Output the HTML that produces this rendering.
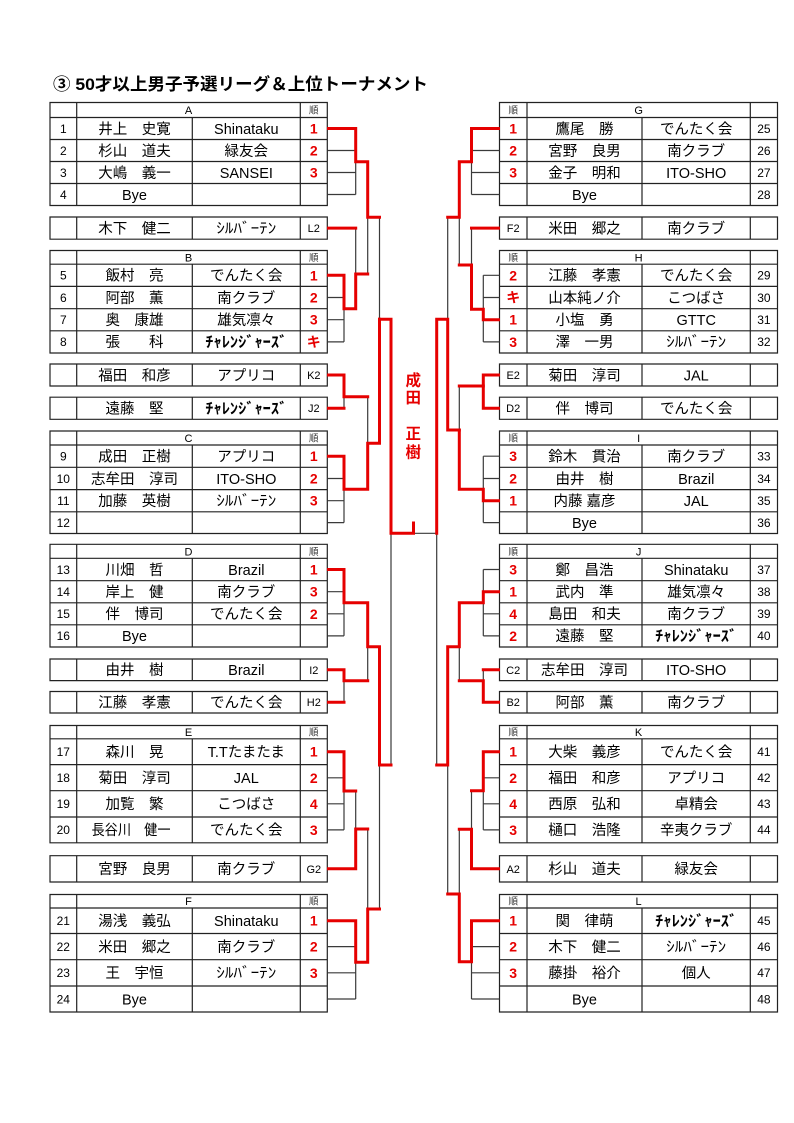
<!DOCTYPE html>
<html><head><meta charset="utf-8"><title>50才以上男子予選リーグ＆上位トーナメント</title>
<style>
html,body{margin:0;padding:0;background:#fff;}
body{width:794px;height:1123px;overflow:hidden;}
svg{display:block;}
text{font-family:"Liberation Sans","Noto Sans CJK JP",sans-serif;fill:#000;}
.n{font-size:12px;text-anchor:middle;}
.m{font-size:14.5px;text-anchor:middle;}
.r{font-size:14px;font-weight:bold;fill:#e60000;text-anchor:middle;}
.s{font-size:11px;text-anchor:middle;}
.h{font-size:11px;text-anchor:middle;}
.j{font-size:9.5px;text-anchor:middle;fill:#333;}
.ch{font-size:15px;font-weight:bold;text-anchor:middle;}
.hw{font-size:14.5px;text-anchor:middle;}
.ttl{font-size:17px;font-weight:bold;}
.win{font-size:15.5px;font-weight:bold;fill:#e60000;text-anchor:middle;}
.t{fill:none;stroke:#222;stroke-width:1.2;}
.k{fill:none;stroke:#3a3a3a;stroke-width:1.2;}
.red{fill:none;stroke:#e60000;stroke-width:3;stroke-linejoin:miter;stroke-linecap:square;}
</style></head>
<body>
<svg width="794" height="1123" viewBox="0 0 794 1123" xmlns="http://www.w3.org/2000/svg">
<text class="ttl" x="53" y="90" textLength="375" lengthAdjust="spacingAndGlyphs">③ 50才以上男子予選リーグ＆上位トーナメント</text>

<!-- LEFT TABLES -->
<path class="t" d="M50 102.5H327.3V205.5H50Z M50 117.5H327.3 M50 139.5H327.3 M50 161.5H327.3 M50 183.5H327.3 M76.7 102.5V205.5 M300.3 102.5V205.5 M192.3 117.5V205.5"/>
<path class="t" d="M50 217H327.3V239.2H50Z M76.7 217V239.2 M192.3 217V239.2 M300.3 217V239.2"/>
<path class="t" d="M50 250.5H327.3V353H50Z M50 264.2H327.3 M50 286.4H327.3 M50 308.7H327.3 M50 330.8H327.3 M76.7 250.5V353 M300.3 250.5V353 M192.3 264.2V353"/>
<path class="t" d="M50 364H327.3V386H50Z M76.7 364V386 M192.3 364V386 M300.3 364V386"/>
<path class="t" d="M50 397.2H327.3V419.3H50Z M76.7 397.2V419.3 M192.3 397.2V419.3 M300.3 397.2V419.3"/>
<path class="t" d="M50 431H327.3V533.5H50Z M50 445H327.3 M50 467.3H327.3 M50 489.6H327.3 M50 511.8H327.3 M76.7 431V533.5 M300.3 431V533.5 M192.3 445V533.5"/>
<path class="t" d="M50 544.3H327.3V647H50Z M50 558.3H327.3 M50 580.7H327.3 M50 602.8H327.3 M50 624.8H327.3 M76.7 544.3V647 M300.3 544.3V647 M192.3 558.3V647"/>
<path class="t" d="M50 659H327.3V680.6H50Z M76.7 659V680.6 M192.3 659V680.6 M300.3 659V680.6"/>
<path class="t" d="M50 691.5H327.3V713H50Z M76.7 691.5V713 M192.3 691.5V713 M300.3 691.5V713"/>
<path class="t" d="M50 725.5H327.3V842.8H50Z M50 738.8H327.3 M50 764.6H327.3 M50 790.7H327.3 M50 817H327.3 M76.7 725.5V842.8 M300.3 725.5V842.8 M192.3 738.8V842.8"/>
<path class="t" d="M50 855.7H327.3V882H50Z M76.7 855.7V882 M192.3 855.7V882 M300.3 855.7V882"/>
<path class="t" d="M50 894.5H327.3V1012H50Z M50 908H327.3 M50 933.5H327.3 M50 959.7H327.3 M50 986H327.3 M76.7 894.5V1012 M300.3 894.5V1012 M192.3 908V1012"/>

<!-- RIGHT TABLES -->
<path class="t" d="M499.5 102.5H777.5V205.5H499.5Z M499.5 117.5H777.5 M499.5 139.5H777.5 M499.5 161.5H777.5 M499.5 183.5H777.5 M527 102.5V205.5 M750.3 102.5V205.5 M642 117.5V205.5"/>
<path class="t" d="M499.5 217H777.5V239.2H499.5Z M527 217V239.2 M642 217V239.2 M750.3 217V239.2"/>
<path class="t" d="M499.5 250.5H777.5V353H499.5Z M499.5 264.2H777.5 M499.5 286.4H777.5 M499.5 308.7H777.5 M499.5 330.8H777.5 M527 250.5V353 M750.3 250.5V353 M642 264.2V353"/>
<path class="t" d="M499.5 364H777.5V386H499.5Z M527 364V386 M642 364V386 M750.3 364V386"/>
<path class="t" d="M499.5 397.2H777.5V419.3H499.5Z M527 397.2V419.3 M642 397.2V419.3 M750.3 397.2V419.3"/>
<path class="t" d="M499.5 431H777.5V533.5H499.5Z M499.5 445H777.5 M499.5 467.3H777.5 M499.5 489.6H777.5 M499.5 511.8H777.5 M527 431V533.5 M750.3 431V533.5 M642 445V533.5"/>
<path class="t" d="M499.5 544.3H777.5V647H499.5Z M499.5 558.3H777.5 M499.5 580.7H777.5 M499.5 602.8H777.5 M499.5 624.8H777.5 M527 544.3V647 M750.3 544.3V647 M642 558.3V647"/>
<path class="t" d="M499.5 659H777.5V680.6H499.5Z M527 659V680.6 M642 659V680.6 M750.3 659V680.6"/>
<path class="t" d="M499.5 691.5H777.5V713H499.5Z M527 691.5V713 M642 691.5V713 M750.3 691.5V713"/>
<path class="t" d="M499.5 725.5H777.5V842.8H499.5Z M499.5 738.8H777.5 M499.5 764.6H777.5 M499.5 790.7H777.5 M499.5 817H777.5 M527 725.5V842.8 M750.3 725.5V842.8 M642 738.8V842.8"/>
<path class="t" d="M499.5 855.7H777.5V882H499.5Z M527 855.7V882 M642 855.7V882 M750.3 855.7V882"/>
<path class="t" d="M499.5 894.5H777.5V1012H499.5Z M499.5 908H777.5 M499.5 933.5H777.5 M499.5 959.7H777.5 M499.5 986H777.5 M527 894.5V1012 M750.3 894.5V1012 M642 908V1012"/>

<!-- BLACK BRACKET LINES -->
<path class="k" d="
M327.3 150.5H355.7 M327.3 172.5H355.7 M327.3 194.5H355.7 M355.7 161.7V194.5
M355.7 228.1V274
M327.3 297.5H344 M327.3 319.7H344 M327.3 341.9H344 M344 308.7V341.9
M367.7 217.3V274
M379.5 217.3V319.3
M344 396.7V408.2
M367.7 396.7V443.3
M327.3 478.5H344 M327.3 500.7H344 M327.3 522.6H344 M344 489.3V522.6
M413.5 533.3H436.7 M391 533.3V765 M436.7 533.3V765
M327.3 591.7H344 M327.3 613.8H344 M327.3 635.9H344 M344 602.7V635.9
M344 680.7V702.2 M367.7 646.7V680.7
M327.3 777.8H344 M327.3 803.8H344 M327.3 829.9H344 M344 791V829.9
M355.7 791V829
M327.3 946.6H355.7 M327.3 972.8H355.7 M327.3 999H355.7 M355.7 962.3V999
M367.7 829V909 M379.5 765V909
M499.5 150.5H471.5 M499.5 172.5H471.5 M499.5 194.5H471.5 M471.5 161.7V194.5
M471.5 228.1V265
M499.5 275.3H483.3 M499.5 297.5H483.3 M499.5 341.9H483.3 M483.3 275.3V341.9
M459.3 217.3V265
M447.7 217.3V319.3
M459.3 386V430
M499.5 456.2H483.3 M499.5 478.5H483.3 M499.5 522.6H483.3 M483.3 456.2V522.6
M499.5 569.5H483.3 M499.5 613.8H483.3 M499.5 635.9H483.3 M483.3 569.5V635.9
M483.3 669.8V680.7 M459.3 646.7V680.7
M447.7 765V894
M499.5 777.8H483.3 M499.5 803.8H483.3 M499.5 829.9H483.3 M483.3 790.7V829.9
M471.5 790.7V829.3
M499.5 946.6H471.5 M499.5 972.8H471.5 M499.5 999H471.5 M471.5 961.7V999
M459.3 829.3V894
"/>

<!-- RED WINNER PATHS -->
<polyline class="red" points="328.5,128.5 355.7,128.5 355.7,161.7 367.7,161.7 367.7,217.3 379.5,217.3"/>
<polyline class="red" points="328.5,228.1 355.7,228.1"/>
<polyline class="red" points="328.5,275.3 344,275.3 344,308.7 355.7,308.7 355.7,274 367.7,274"/>
<polyline class="red" points="379.5,319.3 391,319.3 391,533.3 413.5,533.3 413.5,523"/>
<polyline class="red" points="328.5,375 344,375 344,396.7 367.7,396.7"/>
<polyline class="red" points="328.5,408.2 344,408.2"/>
<polyline class="red" points="328.5,456.2 344,456.2 344,489.3 367.7,489.3 367.7,443.3 379.5,443.3 379.5,319.3"/>
<polyline class="red" points="328.5,569.5 344,569.5 344,602.7 367.7,602.7 367.7,646.7 379.5,646.7 379.5,765 391,765"/>
<polyline class="red" points="328.5,669.8 344,669.8 344,680.7 367.7,680.7"/>
<polyline class="red" points="328.5,702.2 344,702.2"/>
<polyline class="red" points="328.5,751.7 344,751.7 344,791 355.7,791"/>
<polyline class="red" points="328.5,868.8 355.7,868.8 355.7,829 367.7,829"/>
<polyline class="red" points="328.5,920.7 355.7,920.7 355.7,962.3 367.7,962.3 367.7,909 379.5,909"/>

<polyline class="red" points="498.5,128.5 471.5,128.5 471.5,161.7 459.3,161.7 459.3,217.3 447.7,217.3"/>
<polyline class="red" points="498.5,228.1 471.5,228.1"/>
<polyline class="red" points="498.5,319.7 483.3,319.7 483.3,309.3 471.5,309.3 471.5,265 459.3,265"/>
<polyline class="red" points="459.3,430 447.7,430 447.7,319.3 436.7,319.3 436.7,533.3"/>
<polyline class="red" points="498.5,375 483.3,375 483.3,408.2 498.5,408.2"/>
<polyline class="red" points="483.3,386 459.3,386"/>
<polyline class="red" points="498.5,500.7 483.3,500.7 483.3,489.3 459.3,489.3 459.3,430"/>
<polyline class="red" points="498.5,591.7 483.3,591.7 483.3,602.7 459.3,602.7 459.3,646.7 447.7,646.7 447.7,765 436.7,765"/>
<polyline class="red" points="498.5,669.8 483.3,669.8"/>
<polyline class="red" points="498.5,702.2 483.3,702.2 483.3,680.7 459.3,680.7"/>
<polyline class="red" points="498.5,751.7 483.3,751.7 483.3,790.7 471.5,790.7"/>
<polyline class="red" points="498.5,868.8 471.5,868.8 471.5,829.3 459.3,829.3"/>
<polyline class="red" points="498.5,920.7 471.5,920.7 471.5,961.7 459.3,961.7 459.3,894 447.7,894"/>

<!-- Champion -->
<text class="win" x="413.3" y="385.5">成</text>
<text class="win" x="413.3" y="403">田</text>
<text class="win" x="413.3" y="439">正</text>
<text class="win" x="413.3" y="457.3">樹</text>

<!-- LEFT TEXT -->
<!-- A -->
<text class="h" x="188.5" y="114">A</text><text class="j" x="313.8" y="113.5">順</text>
<text class="n" x="63.3" y="132.8">1</text><text class="m" x="134.5" y="133.8">井上　史寛</text><text class="m" x="246.3" y="133.8">Shinataku</text><text class="r" x="313.8" y="133.5">1</text>
<text class="n" x="63.3" y="154.8">2</text><text class="m" x="134.5" y="155.8">杉山　道夫</text><text class="m" x="246.3" y="155.8">緑友会</text><text class="r" x="313.8" y="155.5">2</text>
<text class="n" x="63.3" y="176.8">3</text><text class="m" x="134.5" y="177.8">大嶋　義一</text><text class="m" x="246.3" y="177.8">SANSEI</text><text class="r" x="313.8" y="177.5">3</text>
<text class="n" x="63.3" y="198.8">4</text><text class="m" x="134.5" y="199.8">Bye</text>
<!-- L2 -->
<text class="m" x="134.5" y="233.4">木下　健二</text><text class="hw" x="246.3" y="233.4" textLength="60" lengthAdjust="spacingAndGlyphs">ｼﾙﾊﾞｰﾃﾝ</text><text class="s" x="313.8" y="232.1">L2</text>
<!-- B -->
<text class="h" x="188.5" y="261.3">B</text><text class="j" x="313.8" y="260.8">順</text>
<text class="n" x="63.3" y="279.6">5</text><text class="m" x="134.5" y="280.6">飯村　亮</text><text class="m" x="246.3" y="280.6">でんたく会</text><text class="r" x="313.8" y="280.3">1</text>
<text class="n" x="63.3" y="301.8">6</text><text class="m" x="134.5" y="302.8">阿部　薫</text><text class="m" x="246.3" y="302.8">南クラブ</text><text class="r" x="313.8" y="302.5">2</text>
<text class="n" x="63.3" y="324">7</text><text class="m" x="134.5" y="325">奥　康雄</text><text class="m" x="246.3" y="325">雄気凛々</text><text class="r" x="313.8" y="324.7">3</text>
<text class="n" x="63.3" y="346.2">8</text><text class="m" x="134.5" y="347.2">張　　科</text><text class="ch" x="246.3" y="347.2" textLength="82" lengthAdjust="spacingAndGlyphs">ﾁｬﾚﾝｼﾞｬｰｽﾞ</text><text class="r" x="313.8" y="346.9">キ</text>
<!-- K2 J2 -->
<text class="m" x="134.5" y="380.3">福田　和彦</text><text class="m" x="246.3" y="380.3">アプリコ</text><text class="s" x="313.8" y="379">K2</text>
<text class="m" x="134.5" y="413.5">遠藤　堅</text><text class="ch" x="246.3" y="413.5" textLength="82" lengthAdjust="spacingAndGlyphs">ﾁｬﾚﾝｼﾞｬｰｽﾞ</text><text class="s" x="313.8" y="412.2">J2</text>
<!-- C -->
<text class="h" x="188.5" y="442">C</text><text class="j" x="313.8" y="441.5">順</text>
<text class="n" x="63.3" y="460.5">9</text><text class="m" x="134.5" y="461.5">成田　正樹</text><text class="m" x="246.3" y="461.5">アプリコ</text><text class="r" x="313.8" y="461.2">1</text>
<text class="n" x="63.3" y="482.8">10</text><text class="m" x="134.5" y="483.8">志牟田　淳司</text><text class="m" x="246.3" y="483.8">ITO-SHO</text><text class="r" x="313.8" y="483.5">2</text>
<text class="n" x="63.3" y="505">11</text><text class="m" x="134.5" y="506">加藤　英樹</text><text class="hw" x="246.3" y="506" textLength="60" lengthAdjust="spacingAndGlyphs">ｼﾙﾊﾞｰﾃﾝ</text><text class="r" x="313.8" y="505.7">3</text>
<text class="n" x="63.3" y="526.9">12</text>
<!-- D -->
<text class="h" x="188.5" y="555.3">D</text><text class="j" x="313.8" y="554.8">順</text>
<text class="n" x="63.3" y="573.8">13</text><text class="m" x="134.5" y="574.8">川畑　哲</text><text class="m" x="246.3" y="574.8">Brazil</text><text class="r" x="313.8" y="574.5">1</text>
<text class="n" x="63.3" y="596">14</text><text class="m" x="134.5" y="597">岸上　健</text><text class="m" x="246.3" y="597">南クラブ</text><text class="r" x="313.8" y="596.7">3</text>
<text class="n" x="63.3" y="618.1">15</text><text class="m" x="134.5" y="619.1">伴　博司</text><text class="m" x="246.3" y="619.1">でんたく会</text><text class="r" x="313.8" y="618.8">2</text>
<text class="n" x="63.3" y="640.2">16</text><text class="m" x="134.5" y="641.2">Bye</text>
<!-- I2 H2 -->
<text class="m" x="134.5" y="675.1">由井　樹</text><text class="m" x="246.3" y="675.1">Brazil</text><text class="s" x="313.8" y="673.8">I2</text>
<text class="m" x="134.5" y="707.5">江藤　孝憲</text><text class="m" x="246.3" y="707.5">でんたく会</text><text class="s" x="313.8" y="706.2">H2</text>
<!-- E -->
<text class="h" x="188.5" y="736.1">E</text><text class="j" x="313.8" y="735.6">順</text>
<text class="n" x="63.3" y="756">17</text><text class="m" x="134.5" y="757">森川　晃</text><text class="m" x="246.3" y="757">T.Tたまたま</text><text class="r" x="313.8" y="756.7">1</text>
<text class="n" x="63.3" y="782.1">18</text><text class="m" x="134.5" y="783.1">菊田　淳司</text><text class="m" x="246.3" y="783.1">JAL</text><text class="r" x="313.8" y="782.8">2</text>
<text class="n" x="63.3" y="808.1">19</text><text class="m" x="134.5" y="809.1">加覧　繁</text><text class="m" x="246.3" y="809.1">こつばさ</text><text class="r" x="313.8" y="808.8">4</text>
<text class="n" x="63.3" y="834.2">20</text><text class="m" x="131" y="835.2" textLength="79" lengthAdjust="spacingAndGlyphs">長谷川　健一</text><text class="m" x="246.3" y="835.2">でんたく会</text><text class="r" x="313.8" y="834.9">3</text>
<!-- G2 -->
<text class="m" x="134.5" y="874.1">宮野　良男</text><text class="m" x="246.3" y="874.1">南クラブ</text><text class="s" x="313.8" y="872.8">G2</text>
<!-- F -->
<text class="h" x="188.5" y="905.2">F</text><text class="j" x="313.8" y="904.7">順</text>
<text class="n" x="63.3" y="925">21</text><text class="m" x="134.5" y="926">湯浅　義弘</text><text class="m" x="246.3" y="926">Shinataku</text><text class="r" x="313.8" y="925.7">1</text>
<text class="n" x="63.3" y="950.9">22</text><text class="m" x="134.5" y="951.9">米田　郷之</text><text class="m" x="246.3" y="951.9">南クラブ</text><text class="r" x="313.8" y="951.6">2</text>
<text class="n" x="63.3" y="977.1">23</text><text class="m" x="134.5" y="978.1">王　宇恒</text><text class="hw" x="246.3" y="978.1" textLength="60" lengthAdjust="spacingAndGlyphs">ｼﾙﾊﾞｰﾃﾝ</text><text class="r" x="313.8" y="977.8">3</text>
<text class="n" x="63.3" y="1003.3">24</text><text class="m" x="134.5" y="1004.3">Bye</text>

<!-- RIGHT TEXT -->
<!-- G -->
<text class="j" x="513.2" y="113.5">順</text><text class="h" x="638.6" y="114">G</text>
<text class="r" x="513.2" y="133.5">1</text><text class="m" x="584.5" y="133.8">鷹尾　勝</text><text class="m" x="696.2" y="133.8">でんたく会</text><text class="n" x="763.9" y="132.8">25</text>
<text class="r" x="513.2" y="155.5">2</text><text class="m" x="584.5" y="155.8">宮野　良男</text><text class="m" x="696.2" y="155.8">南クラブ</text><text class="n" x="763.9" y="154.8">26</text>
<text class="r" x="513.2" y="177.5">3</text><text class="m" x="584.5" y="177.8">金子　明和</text><text class="m" x="696.2" y="177.8">ITO-SHO</text><text class="n" x="763.9" y="176.8">27</text>
<text class="m" x="584.5" y="199.8">Bye</text><text class="n" x="763.9" y="198.8">28</text>
<!-- F2 -->
<text class="s" x="513.2" y="232.1">F2</text><text class="m" x="584.5" y="233.4">米田　郷之</text><text class="m" x="696.2" y="233.4">南クラブ</text>
<!-- H -->
<text class="j" x="513.2" y="260.8">順</text><text class="h" x="638.6" y="261.3">H</text>
<text class="r" x="513.2" y="280.3">2</text><text class="m" x="584.5" y="280.6">江藤　孝憲</text><text class="m" x="696.2" y="280.6">でんたく会</text><text class="n" x="763.9" y="279.6">29</text>
<text class="r" x="513.2" y="302.5">キ</text><text class="m" x="584.5" y="302.8">山本純ノ介</text><text class="m" x="696.2" y="302.8">こつばさ</text><text class="n" x="763.9" y="301.8">30</text>
<text class="r" x="513.2" y="324.7">1</text><text class="m" x="584.5" y="325">小塩　勇</text><text class="m" x="696.2" y="325">GTTC</text><text class="n" x="763.9" y="324">31</text>
<text class="r" x="513.2" y="346.9">3</text><text class="m" x="584.5" y="347.2">澤　一男</text><text class="hw" x="696.2" y="347.2" textLength="60" lengthAdjust="spacingAndGlyphs">ｼﾙﾊﾞｰﾃﾝ</text><text class="n" x="763.9" y="346.2">32</text>
<!-- E2 D2 -->
<text class="s" x="513.2" y="379">E2</text><text class="m" x="584.5" y="380.3">菊田　淳司</text><text class="m" x="696.2" y="380.3">JAL</text>
<text class="s" x="513.2" y="412.2">D2</text><text class="m" x="584.5" y="413.5">伴　博司</text><text class="m" x="696.2" y="413.5">でんたく会</text>
<!-- I -->
<text class="j" x="513.2" y="441.5">順</text><text class="h" x="638.6" y="442">I</text>
<text class="r" x="513.2" y="461.2">3</text><text class="m" x="584.5" y="461.5">鈴木　貫治</text><text class="m" x="696.2" y="461.5">南クラブ</text><text class="n" x="763.9" y="460.5">33</text>
<text class="r" x="513.2" y="483.5">2</text><text class="m" x="584.5" y="483.8">由井　樹</text><text class="m" x="696.2" y="483.8">Brazil</text><text class="n" x="763.9" y="482.8">34</text>
<text class="r" x="513.2" y="505.7">1</text><text class="m" x="584.5" y="506">内藤 嘉彦</text><text class="m" x="696.2" y="506">JAL</text><text class="n" x="763.9" y="505">35</text>
<text class="m" x="584.5" y="527.9">Bye</text><text class="n" x="763.9" y="526.9">36</text>
<!-- J -->
<text class="j" x="513.2" y="554.8">順</text><text class="h" x="638.6" y="555.3">J</text>
<text class="r" x="513.2" y="574.5">3</text><text class="m" x="584.5" y="574.8">鄭　昌浩</text><text class="m" x="696.2" y="574.8">Shinataku</text><text class="n" x="763.9" y="573.8">37</text>
<text class="r" x="513.2" y="596.7">1</text><text class="m" x="584.5" y="597">武内　準</text><text class="m" x="696.2" y="597">雄気凛々</text><text class="n" x="763.9" y="596">38</text>
<text class="r" x="513.2" y="618.8">4</text><text class="m" x="584.5" y="619.1">島田　和夫</text><text class="m" x="696.2" y="619.1">南クラブ</text><text class="n" x="763.9" y="618.1">39</text>
<text class="r" x="513.2" y="640.9">2</text><text class="m" x="584.5" y="641.2">遠藤　堅</text><text class="ch" x="696.2" y="641.2" textLength="82" lengthAdjust="spacingAndGlyphs">ﾁｬﾚﾝｼﾞｬｰｽﾞ</text><text class="n" x="763.9" y="640.2">40</text>
<!-- C2 B2 -->
<text class="s" x="513.2" y="673.8">C2</text><text class="m" x="584.5" y="675.1">志牟田　淳司</text><text class="m" x="696.2" y="675.1">ITO-SHO</text>
<text class="s" x="513.2" y="706.2">B2</text><text class="m" x="584.5" y="707.5">阿部　薫</text><text class="m" x="696.2" y="707.5">南クラブ</text>
<!-- K -->
<text class="j" x="513.2" y="735.6">順</text><text class="h" x="638.6" y="736.1">K</text>
<text class="r" x="513.2" y="756.7">1</text><text class="m" x="584.5" y="757">大柴　義彦</text><text class="m" x="696.2" y="757">でんたく会</text><text class="n" x="763.9" y="756">41</text>
<text class="r" x="513.2" y="782.8">2</text><text class="m" x="584.5" y="783.1">福田　和彦</text><text class="m" x="696.2" y="783.1">アプリコ</text><text class="n" x="763.9" y="782.1">42</text>
<text class="r" x="513.2" y="808.8">4</text><text class="m" x="584.5" y="809.1">西原　弘和</text><text class="m" x="696.2" y="809.1">卓精会</text><text class="n" x="763.9" y="808.1">43</text>
<text class="r" x="513.2" y="834.9">3</text><text class="m" x="584.5" y="835.2">樋口　浩隆</text><text class="m" x="696.2" y="835.2">辛夷クラブ</text><text class="n" x="763.9" y="834.2">44</text>
<!-- A2 -->
<text class="s" x="513.2" y="872.8">A2</text><text class="m" x="584.5" y="874.1">杉山　道夫</text><text class="m" x="696.2" y="874.1">緑友会</text>
<!-- L -->
<text class="j" x="513.2" y="904.7">順</text><text class="h" x="638.6" y="905.2">L</text>
<text class="r" x="513.2" y="925.7">1</text><text class="m" x="584.5" y="926">関　律萌</text><text class="ch" x="696.2" y="926" textLength="82" lengthAdjust="spacingAndGlyphs">ﾁｬﾚﾝｼﾞｬｰｽﾞ</text><text class="n" x="763.9" y="925">45</text>
<text class="r" x="513.2" y="951.6">2</text><text class="m" x="584.5" y="951.9">木下　健二</text><text class="hw" x="696.2" y="951.9" textLength="60" lengthAdjust="spacingAndGlyphs">ｼﾙﾊﾞｰﾃﾝ</text><text class="n" x="763.9" y="950.9">46</text>
<text class="r" x="513.2" y="977.8">3</text><text class="m" x="584.5" y="978.1">藤掛　裕介</text><text class="m" x="696.2" y="978.1">個人</text><text class="n" x="763.9" y="977.1">47</text>
<text class="m" x="584.5" y="1004.3">Bye</text><text class="n" x="763.9" y="1003.3">48</text>
</svg>
</body></html>
